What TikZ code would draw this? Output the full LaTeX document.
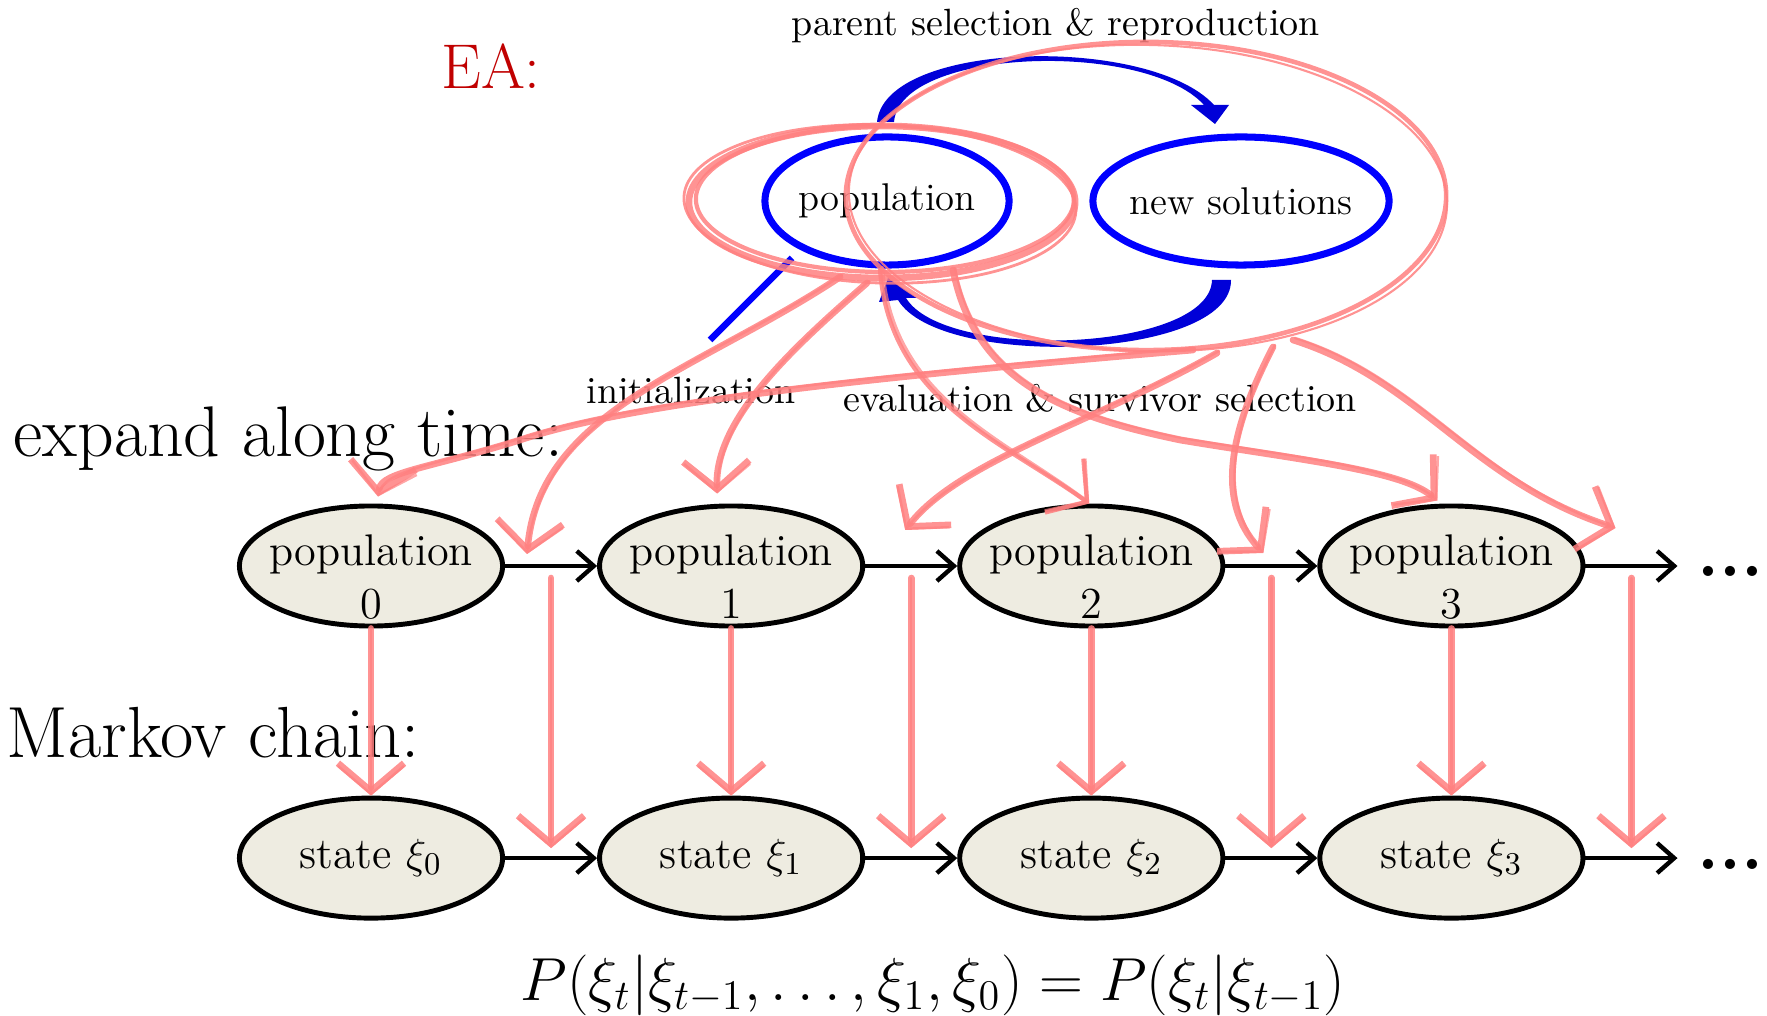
\documentclass[tikz,border=0pt]{standalone}
\usepackage{fontspec}
\usepackage{amsmath}
\usepackage{tikz}
\usetikzlibrary{shapes.geometric, arrows.meta, positioning, calc}
\definecolor{chainfill}{HTML}{EEECE1}
\definecolor{sketchpink}{HTML}{FF8080}
\definecolor{loopblue}{HTML}{0000FF}
\definecolor{arcblue}{HTML}{0000D8}
\definecolor{eared}{HTML}{C00000}

\tikzset{
  statenode/.style={ellipse, draw, line width=1.4pt, fill=chainfill, minimum width=2.63cm, minimum height=1.2cm, inner sep=-2mm, align=center, font=\fontsize{12.6}{15}\selectfont},
  popnode/.style={statenode, text height=30pt, text depth=0pt},
  eabox/.style={ellipse, draw=loopblue, line width=2pt, minimum height=1.28cm, inner sep=-2mm, font=\fontsize{11}{13}\selectfont},
  lbl/.style={inner sep=0pt},
  flow/.style={-{Straight Barb[length=1.7mm,width=3mm]}, line width=1.25pt},
  sketch/.style={draw=sketchpink, line width=1.9pt, line cap=round, line join=round, opacity=0.85},
  sketchtip/.style={-{Straight Barb[length=2.8mm,width=6.6mm]}},
}

% hand-drawn pink stroke, traced twice
\newcommand{\scrawl}[2][]{%
  \draw[sketch,#1] #2;
  \draw[sketch,line width=0.7pt,opacity=0.7,shift={(2,-2)},#1] #2;}

\begin{document}
\begin{tikzpicture}[x=0.01cm, y=-0.01cm]
  \useasboundingbox (0,0) rectangle (1767,1016);

  % the EA cycle
  \node (ea) [text=eared, font=\fontsize{18}{20}\selectfont] at (491,66) {EA:};
  \node (pop) [eabox, minimum width=2.44cm] at (887,201) {population};
  \node (new) [eabox, minimum width=2.96cm] at (1241,201) {new solutions};
  \node (prl) [lbl, font=\fontsize{10.8}{13}\selectfont] at (1056,26) {parent selection \& reproduction};
  \node (evl) [lbl, font=\fontsize{10.8}{13}\selectfont] at (1100,398) {evaluation \& survivor selection};
  \node (inl) [lbl, font=\fontsize{10.8}{13}\selectfont] at (691,391) {initialization};

  \fill[arcblue] (877,122) .. controls (885,40) and (1150,35) .. (1214,105) -- (1229,105) -- (1215,124)
    -- (1191,105) -- (1204,105) .. controls (1145,40) and (900,48) .. (894,122) -- cycle;
  \fill[arcblue] (1212,280) -- (1231,280) .. controls (1232,360) and (940,370) .. (898,300) -- (879,302)
    -- (888,278) -- (917,298) -- (906,298) .. controls (945,362) and (1210,352) .. (1212,280) -- cycle;
  \coordinate (init) at (710,340);
  \draw[loopblue, line width=0.65mm] (init) -- ([shift={(-95,57)}]pop.center);

  % expanded along time
  \node (exl) [lbl, anchor=base west, font=\fontsize{20.4}{24}\selectfont] at (13,457) {expand along time:};
  \node (mcl) [lbl, anchor=base west, font=\fontsize{20.6}{24}\selectfont] at (6,757) {Markov chain:};

  \node (pop0) [popnode] at (371,566) {population\\0};
  \node (pop1) [popnode, right=0.92cm of pop0] {population\\1};
  \node (pop2) [popnode, right=0.92cm of pop1] {population\\2};
  \node (pop3) [popnode, right=0.92cm of pop2] {population\\3};
  \coordinate [right=0.92cm of pop3] (popend);

  \node (st0) [statenode, below=1.67cm of pop0] {state $\xi_0$};
  \node (st1) [statenode, below=1.67cm of pop1] {state $\xi_1$};
  \node (st2) [statenode, below=1.67cm of pop2] {state $\xi_2$};
  \node (st3) [statenode, below=1.67cm of pop3] {state $\xi_3$};
  \coordinate [right=0.92cm of st3] (stend);

  \node (dots0) [lbl, anchor=base, font=\fontsize{20}{20}\selectfont] at (1730,577) {\textbf{...}};
  \node (dots1) [lbl, anchor=base, font=\fontsize{20}{20}\selectfont] at (1730,869) {\textbf{...}};

  \foreach \a/\b in {pop0/pop1, pop1/pop2, pop2/pop3, pop3/popend, st0/st1, st1/st2, st2/st3, st3/stend}
    \draw[flow] (\a) -- (\b);

  \node (markov) [lbl, anchor=base, font=\fontsize{17}{20}\selectfont] at (933,1000)
    {$P(\xi_t|\xi_{t-1},\dots,\xi_1,\xi_0)=P(\xi_t|\xi_{t-1})$};

  % pink annotations
  \coordinate (g0) at ($(pop0.east)!0.5!(pop1.west)$);
  \coordinate (g1) at ($(pop1.east)!0.5!(pop2.west)$);
  \coordinate (g2) at ($(pop2.east)!0.5!(pop3.west)$);
  \coordinate (g3) at ($(pop3.east)!0.5!(popend)$);
  \coordinate (h0) at ($(st0.east)!0.5!(st1.west)$);
  \coordinate (h1) at ($(st1.east)!0.5!(st2.west)$);
  \coordinate (h2) at ($(st2.east)!0.5!(st3.west)$);
  \coordinate (h3) at ($(st3.east)!0.5!(stend)$);

  \draw[sketch] (882,202) ellipse [x radius=1.93cm, y radius=0.76cm];
  \draw[sketch, line width=1.2pt] (885,199) ellipse [x radius=1.89cm, y radius=0.73cm];
  \draw[sketch, line width=0.8pt, rotate around={-2:(882,202)}] (880,204) ellipse [x radius=1.96cm, y radius=0.79cm];
  \draw[sketch, line width=1.3pt] (1146,196) ellipse [x radius=3cm, y radius=1.54cm];
  \draw[sketch, line width=0.6pt, rotate around={-1.5:(1146,196)}] (1148,198) ellipse [x radius=2.99cm, y radius=1.53cm];

  \scrawl[sketchtip]{(1193,350) .. controls (900,375) and (640,400) .. (520,440) .. controls (430,468) and (382,472) .. ([shift={(7,-7)}]pop0.north)}
  \scrawl[sketchtip]{(840,277) .. controls (700,370) and (540,410) .. ([shift={(-24,-12)}]g0)}
  \scrawl[sketchtip]{(867,283) .. controls (790,350) and (715,420) .. ([shift={(-14,-10)}]pop1.north)}
  \scrawl[sketchtip]{(1217,353) .. controls (1100,420) and (960,460) .. ([shift={(-6,-36)}]g1)}
  \scrawl[sketchtip, line width=1.2pt]{(880,270) .. controls (890,400) and (1000,440) .. ([shift={(-2,0)}]pop2.north)}
  \scrawl[sketchtip]{(953,270) .. controls (975,380) and (1060,415) .. (1180,440) .. controls (1300,460) and (1400,470) .. ([shift={(-14,-3)}]pop3.north)}
  \scrawl[sketchtip]{(1273,347) .. controls (1230,430) and (1215,500) .. ([shift={(-8,-13)}]g2)}
  \scrawl[sketchtip]{(1293,340) .. controls (1420,380) and (1470,480) .. ([shift={(-16,-38)}]g3)}

  \foreach \i in {0,...,3} {
    \scrawl[sketchtip]{(pop\i.south) -- (st\i.north)}
    \scrawl[sketchtip]{([yshift=-1.2mm]g\i) -- ([yshift=1mm]h\i)}
  }
\end{tikzpicture}
\end{document}
